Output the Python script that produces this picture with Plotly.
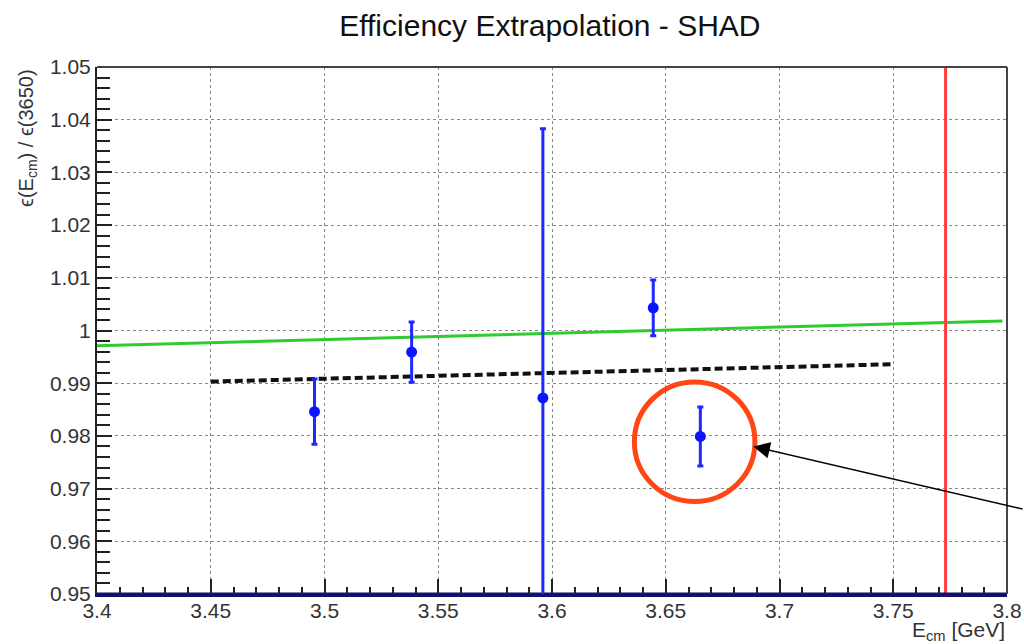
import plotly.graph_objects as go

# ---- data ----
energy = [3.4956, 3.5383, 3.596, 3.6445, 3.6652]
eff_ratio = [0.9846, 0.9959, 0.9872, 1.0043, 0.9799]
eff_err = [0.0062, 0.0057, 0.0511, 0.0053, 0.0056]

green_x = [3.4, 3.798]
green_y = [0.9971, 1.0018]

dash_x = [3.45, 3.75]
dash_y = [0.9903, 0.9936]

psi_x = 3.773
x_ticks = [3.4, 3.45, 3.5, 3.55, 3.6, 3.65, 3.7, 3.75, 3.8]
y_ticks = [0.95, 0.96, 0.97, 0.98, 0.99, 1.0, 1.01, 1.02, 1.03, 1.04, 1.05]

FONT = "Liberation Sans, Arial, Helvetica, sans-serif"

fig = go.Figure()

fig.add_trace(go.Scatter(x=green_x, y=green_y, mode="lines",
                         line=dict(color="#2fcc2f", width=3), showlegend=False))
fig.add_trace(go.Scatter(x=dash_x, y=dash_y, mode="lines",
                         line=dict(color="#111111", width=4, dash="8px,4px"), showlegend=False))
fig.add_trace(go.Scatter(x=[psi_x, psi_x], y=[y_ticks[0], y_ticks[-1]], mode="lines",
                         line=dict(color="#ff3b3b", width=3), showlegend=False))
fig.add_trace(go.Scatter(x=[x_ticks[0], x_ticks[-1]], y=[y_ticks[0], y_ticks[0]], mode="lines",
                         line=dict(color="#10106e", width=3), showlegend=False))
fig.add_trace(go.Scatter(
    x=energy, y=eff_ratio, mode="markers",
    marker=dict(color="#0a14ff", size=11),
    error_y=dict(type="data", array=eff_err, color="#1e28ff", thickness=3, width=3),
    showlegend=False))

# highlight circle around the last point
cx, cy = energy[4], eff_ratio[4]
rx, ry = 0.0265, 0.01135
fig.add_shape(type="circle", xref="x", yref="y",
              x0=cx - rx - 0.0025, x1=cx + rx - 0.0025, y0=cy - ry - 0.001, y1=cy + ry - 0.001,
              line=dict(color="#ff4614", width=5))

# arrow
fig.add_annotation(x=cx + 0.0233, y=cy - 0.0019, xref="x", yref="y", text="",
                   showarrow=True, arrowhead=2, arrowsize=2.2, arrowwidth=1.5,
                   arrowcolor="#000000", ax=272, ay=63)

# frame top/right
fig.add_shape(type="line", xref="paper", yref="paper", x0=0, x1=1, y0=1, y1=1,
              line=dict(color="#444444", width=2))
fig.add_shape(type="line", xref="paper", yref="paper", x0=1, x1=1, y0=0, y1=1,
              line=dict(color="#444444", width=2))

# axis titles
fig.add_annotation(xref="paper", yref="paper", x=-0.077, y=1.0, xanchor="center", yanchor="top",
                   text="ϵ(E<sub>cm</sub>) / ϵ(3650)", textangle=-90, showarrow=False,
                   font=dict(family=FONT, size=20, color="#333333"))
fig.add_annotation(xref="paper", yref="paper", x=1.0, y=-0.071, xanchor="right", yanchor="middle",
                   text="E<sub>cm</sub> [GeV]", showarrow=False,
                   font=dict(family=FONT, size=21, color="#333333"))

fig.update_layout(
    width=1024, height=644,
    margin=dict(l=97, r=17, t=67, b=50),
    paper_bgcolor="white", plot_bgcolor="white",
    title=dict(text="Efficiency Extrapolation - SHAD", x=0.537, xanchor="center",
               y=0.961, yanchor="middle", font=dict(family=FONT, size=30, color="#111111")),
    xaxis=dict(range=[x_ticks[0], x_ticks[-1]], tickvals=x_ticks, showline=True, automargin=False,
               linecolor="#10106e", linewidth=3, ticks="inside", ticklen=15, tickcolor="#222222",
               tickwidth=1.5, ticklabelstandoff=-4,
               showgrid=True, gridcolor="#888888", griddash="dot", gridwidth=1,
               zeroline=False, tickfont=dict(family=FONT, size=21, color="#333333"),
               minor=dict(dtick=0.01, ticks="inside", ticklen=7, tickcolor="#222222", showgrid=False)),
    yaxis=dict(range=[y_ticks[0], y_ticks[-1]], tickvals=y_ticks, showline=True, automargin=False,
               linecolor="#222222", linewidth=2, ticks="inside", ticklen=15, tickcolor="#222222",
               tickwidth=1.5,
               showgrid=True, gridcolor="#888888", griddash="dot", gridwidth=1,
               zeroline=False, tickfont=dict(family=FONT, size=21, color="#333333"),
               minor=dict(dtick=0.002, ticks="inside", ticklen=13, tickcolor="#222222", showgrid=False)),
)

fig.write_html("out.html")
